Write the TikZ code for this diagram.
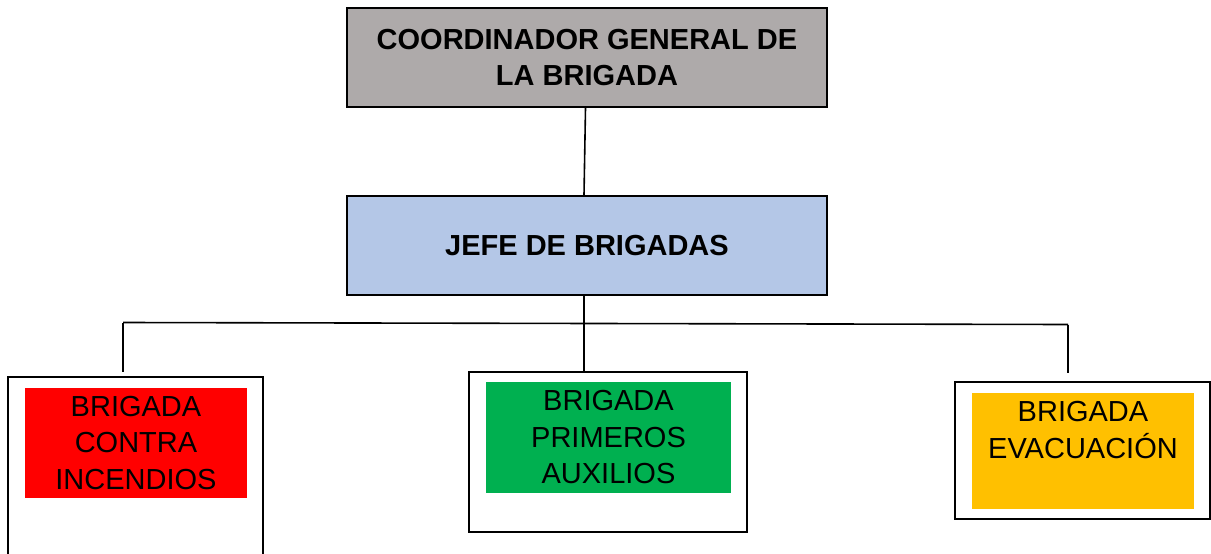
\documentclass[tikz,border=0pt]{standalone}
\usepackage{fontspec}
\setmainfont{Liberation Sans}
\usetikzlibrary{positioning}
\definecolor{coordcol}{HTML}{AEAAAA}
\definecolor{jefecol}{HTML}{B4C7E7}
\definecolor{fuegocol}{HTML}{FF0000}
\definecolor{auxcol}{HTML}{00B050}
\definecolor{evaccol}{HTML}{FFC000}
\tikzset{headbox/.style = {shape=rectangle,draw,line width=2pt,minimum width=480pt,minimum height=99pt,align=center,font=\bfseries\fontsize{29}{36}\selectfont}}
\tikzset{outerbox/.style = {shape=rectangle,draw,line width=2pt}}
\tikzset{brigbox/.style = {shape=rectangle,inner sep=0pt,align=center,font=\fontsize{29}{36.5}\selectfont}}
\tikzset{link/.style = {line width=1.6pt}}

\begin{document}
\begin{tikzpicture}[x=1pt,y=-1pt]
                    \useasboundingbox (0,0) rectangle (1211,554);
                    \node[headbox, fill=coordcol] (coord) at (587,57.5) {COORDINADOR GENERAL DE\\LA BRIGADA};
                    \node[headbox, fill=jefecol] (jefe) at (587,245.5) {JEFE DE BRIGADAS};

                    \node[outerbox, minimum width=255pt, minimum height=183pt] (outfuego) at (135.5,468.5) {};
                    \node[outerbox, minimum width=278pt, minimum height=160pt] (outaux) at (608,452) {};
                    \node[outerbox, minimum width=255pt, minimum height=137pt] (outevac) at (1082.5,450.5) {};

                    \node[brigbox, fill=fuegocol, minimum width=222pt, minimum height=110pt] (fuego) at (136,443) {BRIGADA\\CONTRA\\INCENDIOS};
                    \node[brigbox, fill=auxcol, minimum width=245pt, minimum height=111pt] (aux) at (608.5,437.5) {BRIGADA\\PRIMEROS\\AUXILIOS};
                    \node[brigbox, fill=evaccol, minimum width=222pt, minimum height=116pt] (evac) at (1083,451) {};
                    \node[brigbox] (evactext) at (1083,430) {BRIGADA\\EVACUACIÓN};

                    \coordinate (barL) at (123,322.5);
                    \coordinate (barR) at (1068,324.5);
                    \coordinate (dropL) at (123,372);
                    \coordinate (dropR) at (1068,373);

                    \draw[link] ([xshift=-1.5pt]coord.south) -- ([xshift=-3pt]jefe.north);
                    \draw[link] ([xshift=-3pt]jefe.south) -- ([xshift=-24pt]outaux.north);
                    \draw[link] (barL) -- (barR);
                    \draw[link] (barL) -- (dropL);
                    \draw[link] (barR) -- (dropR);
                \end{tikzpicture}
\end{document}
